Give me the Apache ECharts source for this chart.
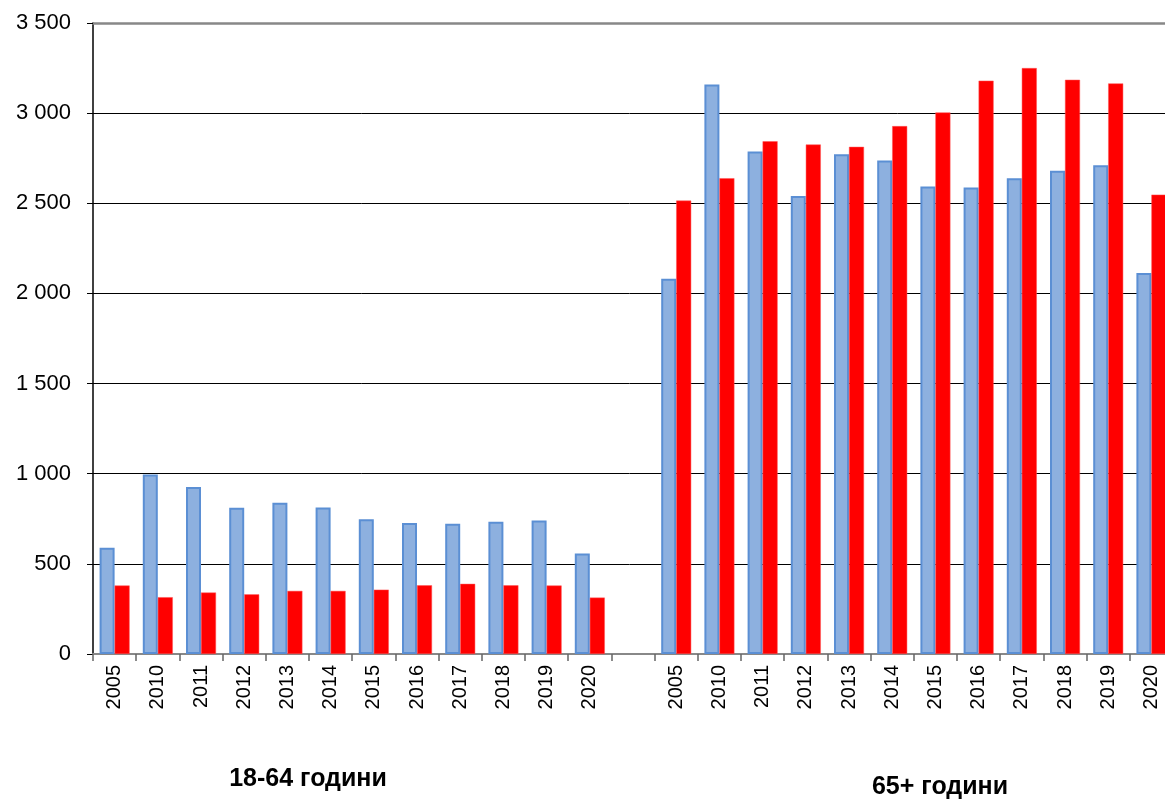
<!DOCTYPE html>
<html>
<head>
<meta charset="utf-8">
<script src="https://cdn.jsdelivr.net/npm/echarts@6/dist/echarts.min.js"></script>
<style>
html,body{margin:0;padding:0;background:#fff;}
#chart{width:1165px;height:801px;}
</style>
</head>
<body>
<div id="chart"></div>
<script>
const years = ['2005','2010','2011','2012','2013','2014','2015','2016','2017','2018','2019','2020'];
const categories = years.concat(['']).concat(years);
const groupLabels = ['18-64 години', '65+ години'];

const blue1864 = [589, 996, 926, 811, 839, 813, 748, 726, 722, 733, 741, 557];
const red1864  = [380, 315, 341, 331, 350, 350, 357, 381, 389, 381, 380, 313];
const blue65   = [2081, 3159, 2787, 2541, 2772, 2737, 2593, 2587, 2639, 2681, 2711, 2113];
const red65    = [2515, 2639, 2844, 2826, 2813, 2928, 3004, 3180, 3250, 3185, 3165, 2548];

const blueData = blue1864.concat([null]).concat(blue65);
const redData = red1864.concat([null]).concat(red65);

const yMin = 0, yMax = 3500, yStep = 500;

const chart = echarts.init(document.getElementById('chart'));
const fmt = v => String(v).replace(/\B(?=(\d{3})+(?!\d))/g, ' ');
const FONT = '"Liberation Sans", Arial, sans-serif';

chart.setOption({
  animation: false,
  backgroundColor: '#fff',
  textStyle: { fontFamily: FONT },
  grid: { left: 93, top: 23, width: 1080, height: 631, containLabel: false, outerBoundsMode: 'none' },
  xAxis: [{
    type: 'category',
    data: categories,
    boundaryGap: true,
    axisLine: { show: true, lineStyle: { color: '#888', width: 2 } },
    axisTick: { show: true, interval: 0, length: 7, lineStyle: { color: '#666', width: 1.5 } },
    axisLabel: { interval: 0, rotate: 90, fontSize: 20, color: '#000', margin: 11, fontFamily: FONT },
    splitLine: { show: false }
  }, {
    type: 'category',
    data: categories,
    position: 'top',
    axisLine: { show: true, lineStyle: { color: '#888', width: 2.5 } },
    axisTick: { show: false },
    axisLabel: { show: false }
  }],
  yAxis: {
    type: 'value',
    min: yMin, max: yMax, interval: yStep,
    axisLine: { show: true, lineStyle: { color: '#000', width: 1.5 } },
    axisTick: { show: true, length: 6, lineStyle: { color: '#000', width: 1 } },
    axisLabel: { fontSize: 22, color: '#000', margin: 22, formatter: fmt, fontFamily: FONT },
    splitLine: { show: true, lineStyle: { color: '#000', width: 1 } }
  },
  series: [{
    type: 'bar',
    data: blueData,
    barWidth: 15,
    barGap: '0%',
    itemStyle: { color: '#8DB0DF', borderColor: '#5B8FD4', borderWidth: 2 }
  }, {
    type: 'bar',
    data: redData,
    barWidth: 15,
    barGap: '0%',
    itemStyle: { color: '#FF0000', borderColor: '#FF5555', borderWidth: 0.5 }
  }],
  graphic: [{
    type: 'text', x: 308, y: 779,
    style: { text: groupLabels[0], font: 'bold 25px ' + FONT, fill: '#000', align: 'center', verticalAlign: 'middle' }
  }, {
    type: 'text', x: 940, y: 787,
    style: { text: groupLabels[1], font: 'bold 25px ' + FONT, fill: '#000', align: 'center', verticalAlign: 'middle' }
  }]
});
</script>
</body>
</html>
